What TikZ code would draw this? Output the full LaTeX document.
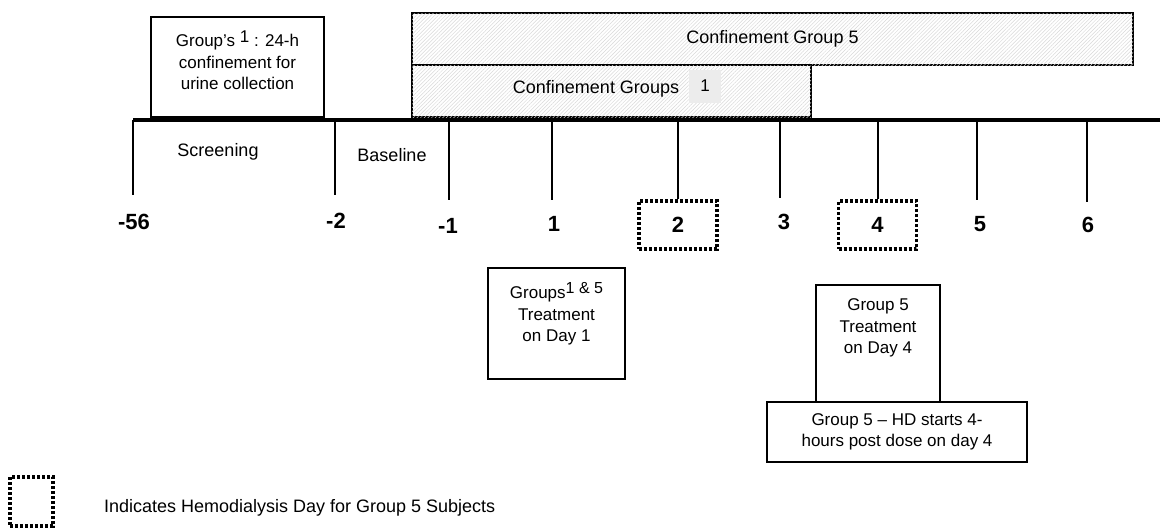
\documentclass[tikz,border=0pt]{standalone}
\usepackage{fontspec}
\setmainfont{Liberation Sans}
\usetikzlibrary{patterns.meta}
\begin{document}
\begin{tikzpicture}
    [x=0.5pt, y=-0.5pt, line width=1pt,
     box/.style={draw, line width=1.1pt, inner sep=0pt},
     hatch/.style={box, fill=white, postaction={pattern={Lines[angle=45,distance=1.3pt,line width=0.25pt]}, pattern color=gray!30}},
     txt/.style={inner sep=0pt, align=center, font=\fontsize{8.5}{10.8}\selectfont},
     daynum/.style={inner sep=0pt, font=\bfseries\fontsize{11}{13}\selectfont},
     hdbox/.style={draw, line width=1.6pt, dash pattern=on 1.5pt off 1pt, minimum width=39pt, minimum height=24pt}]
    \useasboundingbox (0,0) rectangle (1160,531);
    %\draw [help lines] (0,0) grid[step=50] (1160,531);

    % time axis
    \coordinate (ax) at (133,120);
    \coordinate (axend) at (1160,120);

    % confinement periods
    \node[hatch, minimum width=360.5pt, minimum height=26pt] (conf5) at (772.5,39) {};
    \node[txt, font=\fontsize{9}{11}\selectfont] (conf5txt) at (conf5) {Confinement Group 5};
    \node[hatch, minimum width=199.5pt, minimum height=26pt] (conf1) at (611.5,91) {};
    \node[txt, font=\fontsize{9}{11}\selectfont] (conf1txt) at (596,89) {Confinement Groups};
    \node[fill=gray!15, minimum width=16pt, minimum height=16.5pt, inner sep=0pt, font=\fontsize{8.5}{10}\selectfont] (conf1sup) at (705,86) {1};
    \node[box, minimum width=86.5pt, minimum height=50pt,
          label={[txt, anchor=north, yshift=-7pt]north:Group's \raisebox{0.45ex}{1} : 24-h\\confinement for\\urine collection}] (urine) at (237.5,67) {};

    \draw[line width=2pt] (ax) -- (axend);

    % phases
    \node[txt, font=\fontsize{9}{11}\selectfont] (screen) at (218,152) {Screening};
    \node[txt, font=\fontsize{9}{11}\selectfont] (base) at (392,155) {Baseline};

    % days on the axis
    \foreach \x/\e/\lx/\ly/\d/\n in {133/195/134/222/-56/a, 335/195/336/221/-2/b, 449/200/448/226/-1/c,
                                    552/200/554/224/1/d, 780/198/784/222/3/e, 977/200/980/224/5/f, 1087/202/1088/225/6/g}
    {
        \coordinate (t\n) at (\x,\e);
        \draw (t\n |- ax) -- (t\n);
        \node[daynum] (day\n) at (\lx,\ly) {\d};
    }

    % hemodialysis days
    \node[hdbox, daynum] (hd2) at (678,225) {2};
    \node[hdbox, daynum] (hd4) at (877.5,225) {4};
    \draw (hd2.north |- ax) -- (hd2.north);
    \draw (hd4.north |- ax) -- (hd4.north);

    % treatment
    \node[box, minimum width=68.5pt, minimum height=55.5pt,
          label={[txt, anchor=north, yshift=-7.5pt]north:Groups\raisebox{0.5ex}{\fontsize{8}{9}\selectfont 1 \& 5}\\Treatment\\on Day 1}] (treat1) at (556.5,323.5) {};
    \node[box, minimum width=62pt, minimum height=58.5pt,
          label={[txt, anchor=north, yshift=-7pt]north:Group 5\\Treatment\\on Day 4}] (treat4) at (878,343.5) {};
    \node[box, fill=white, minimum width=130pt, minimum height=30pt, txt] (hdstart) at (897,432)
          {Group 5 -- HD starts 4-\\hours post dose on day 4};

    % legend
    \node[hdbox, minimum width=21.5pt, minimum height=24.5pt] (legbox) at (31.5,501.5) {};
    \node[txt, anchor=west, font=\fontsize{9}{11}\selectfont] (legtxt) at (103,508) {Indicates Hemodialysis Day for Group 5 Subjects};
\end{tikzpicture}
\end{document}
